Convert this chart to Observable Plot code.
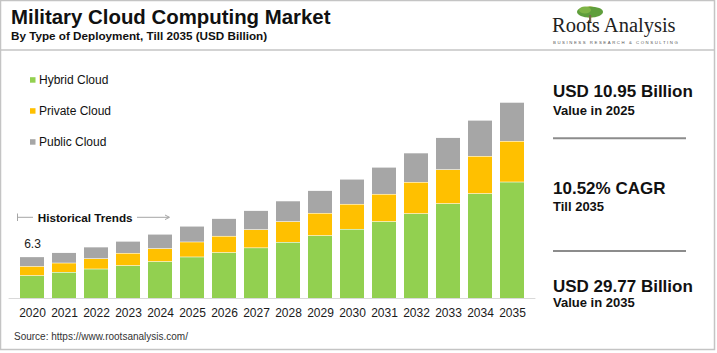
<!DOCTYPE html>
<html>
<head>
<meta charset="utf-8">
<script src="https://cdn.jsdelivr.net/npm/d3@7"></script>
<script src="https://cdn.jsdelivr.net/npm/@observablehq/plot@0.6"></script>
<style>
  body { margin: 0; background: #fff; }
  #wrap { position: relative; width: 717px; height: 353px; background: #fff; font-family: "Liberation Sans", Arial, sans-serif; }
  #chart { position: absolute; left: 0; top: 60px; }
  #overlay { position: absolute; left: 0; top: 0; }
  #overlay text { font-family: "Liberation Sans", Arial, sans-serif; fill: #111; }
</style>
</head>
<body>
<div id="wrap">
  <div id="chart"></div>
  <svg id="overlay" width="717" height="353" xmlns="http://www.w3.org/2000/svg">
    <rect x="0.5" y="0.5" width="714" height="349" fill="none" stroke="#c4c4c4" stroke-width="1.5"/>
    <line x1="0" x2="715" y1="50" y2="50" stroke="#c4c4c4" stroke-width="1.5"/>
    <text x="11" y="24" font-size="20.4" font-weight="bold">Military Cloud Computing Market</text>
    <text x="11" y="40" font-size="11.7" font-weight="bold">By Type of Deployment, Till 2035 (USD Billion)</text>
    <!-- logo -->
    <g>
      <circle cx="590" cy="12" r="6" fill="#f3d36b" opacity="0.8"/>
      <ellipse cx="590" cy="12" rx="13" ry="5.5" fill="#5f9e3c"/>
      <ellipse cx="585" cy="10" rx="6" ry="3.5" fill="#7fb446"/>
      <rect x="589" y="15" width="2.2" height="8" fill="#7a6a4a"/>
      <text x="552" y="32" font-size="20.5" style="font-family:'Liberation Serif','Times New Roman',serif;fill:#222">Roots Analysis</text>
      <text x="553" y="44" font-size="4.3" letter-spacing="1.55" style="fill:#555">BUSINESS RESEARCH &amp; CONSULTING</text>
    </g>
    <g id="legend"></g>
    <!-- historical trends annotation -->
    <g stroke="#a6a6a6" stroke-width="1" fill="none">
      <line x1="17.5" x2="17.5" y1="213.5" y2="221"/>
      <line x1="17.5" x2="33" y1="217.3" y2="217.3"/>
      <line x1="137" x2="169" y1="217.3" y2="217.3"/>
      <path d="M165,215 L169.5,217.3 L165,219.6"/>
    </g>
    <text x="37.7" y="221.5" font-size="11.7" font-weight="bold">Historical Trends</text>
    <!-- right panel -->
    <g id="panel"></g>
    <text x="14" y="339.6" font-size="10" style="fill:#333">Source: https://www.rootsanalysis.com/</text>
  </svg>
</div>
<script>
const years = ["2020","2021","2022","2023","2024","2025","2026","2027","2028","2029","2030","2031","2032","2033","2034","2035"];
const seriesNames = ["Hybrid Cloud", "Private Cloud", "Public Cloud"];
const seriesColors = ["#92D050", "#FFC000", "#A6A6A6"];
const hybridCloud  = [3.45, 3.95, 4.45, 4.97, 5.58, 6.28, 6.95, 7.67, 8.51, 9.53, 10.49, 11.66, 12.87, 14.39, 15.91, 17.67];
const privateCloud = [1.40, 1.41, 1.58, 1.87, 1.98, 2.28, 2.48, 2.77, 3.15, 3.39, 3.80, 4.15, 4.76, 5.17, 5.67, 6.19];
const publicCloud  = [1.45, 1.58, 1.76, 1.82, 2.17, 2.39, 2.69, 2.89, 3.13, 3.45, 3.80, 4.10, 4.45, 4.86, 5.47, 5.91];
const panelHeadlines = ["USD 10.95 Billion", "10.52% CAGR", "USD 29.77 Billion"];
const panelSublines = ["Value in 2025", "Till 2035", "Value in 2035"];

const seriesValues = [hybridCloud, privateCloud, publicCloud];
const data = years.flatMap((year, i) => seriesNames.map((s, j) => ({year, series: s, value: seriesValues[j][i]})));
const totals = years.map((year, i) => ({year, total: hybridCloud[i] + privateCloud[i] + publicCloud[i]}));

const chart = Plot.plot({
  width: 540,
  height: 270,
  marginLeft: 8.6,
  marginRight: 4.6,
  marginTop: 7.7,
  marginBottom: 32,
  style: {fontSize: "12px", fontFamily: "'Liberation Sans', Arial, sans-serif", color: "#1a1a1a", background: "transparent", overflow: "visible"},
  x: {domain: years, padding: 0.26, label: null, tickSize: 0, tickPadding: 10},
  y: {domain: [0, 35], axis: null},
  color: {domain: seriesNames, range: seriesColors},
  marks: [
    Plot.barY(data, {x: "year", y: "value", fill: "series", insetTop: 0.6}),
    Plot.ruleY([0], {stroke: "#d9d9d9", strokeWidth: 1}),
    Plot.text(totals.slice(0, 1), {x: "year", y: "total", text: d => d.total.toFixed(1), dy: -9, lineAnchor: "bottom", fontSize: 12, fill: "#1a1a1a"})
  ]
});
document.getElementById("chart").appendChild(chart);

const NS = "http://www.w3.org/2000/svg";
function el(parent, name, attrs, txt) {
  const e = document.createElementNS(NS, name);
  for (const k in attrs) e.setAttribute(k, attrs[k]);
  if (txt != null) e.textContent = txt;
  parent.appendChild(e);
  return e;
}
const legend = document.getElementById("legend");
const legendY = [80, 111, 142];
seriesNames.forEach((s, i) => {
  el(legend, "rect", {x: 30, y: legendY[i] - 2.8, width: 5.5, height: 5.5, fill: seriesColors[i]});
  el(legend, "text", {x: 39, y: legendY[i] + 4.3, "font-size": 12}, s);
});
const panel = document.getElementById("panel");
const headY = [97.3, 194, 291.7];
const subY = [114.5, 210.7, 307.3];
panelHeadlines.forEach((h, i) => {
  el(panel, "text", {x: 553, y: headY[i], "font-size": 17, "font-weight": "bold"}, h);
  el(panel, "text", {x: 553, y: subY[i], "font-size": 13, "font-weight": "bold"}, panelSublines[i]);
});
[138.3, 251].forEach(y => el(panel, "line", {x1: 553, x2: 686, y1: y, y2: y, stroke: "#8c8c8c", "stroke-width": 2}));
</script>
</body>
</html>
